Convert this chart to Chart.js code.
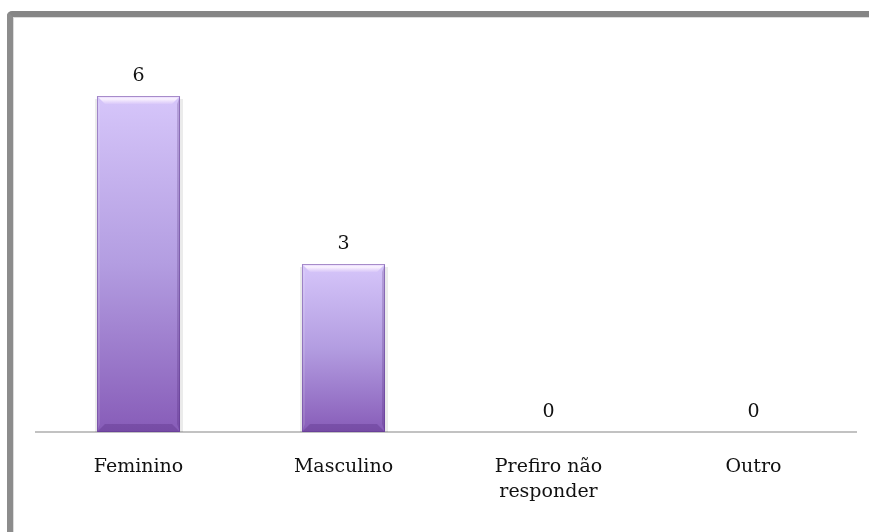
<!DOCTYPE html>
<html>
<head>
<meta charset="utf-8">
<script src="https://cdn.jsdelivr.net/npm/chart.js@4/dist/chart.umd.min.js"></script>
<style>
  html, body { margin: 0; padding: 0; background: #fff; }
  #wrap { position: relative; width: 869px; height: 532px; overflow: hidden; }
  #frame {
    position: absolute; left: 7px; top: 11px; width: 900px; height: 600px;
    border-top: 6px solid #858585; border-left: 6px solid #8c8c8c;
    border-top-left-radius: 5px; box-sizing: border-box;
  }
  #frame::after {
    content: ""; position: absolute; left: 0; top: 0; right: 0; bottom: 0;
    border-top: 1px solid #dcdcdc; border-left: 1px solid #dcdcdc;
  }
  canvas { position: absolute; left: 0; top: 0; }
</style>
</head>
<body>
<div id="wrap">
  <div id="frame"></div>
  <canvas id="c" width="869" height="532"></canvas>
</div>
<script>
const categories = [['Feminino'], ['Masculino'], ['Prefiro não', 'responder'], ['Outro']];
const respostas = [6, 3, 0, 0];

const FONT = '"DejaVu Serif", "Liberation Serif", serif';

// Vertical lavender-to-purple gradient over each bar's own height
function barGradient(ctx) {
  const chart = ctx.chart;
  if (!chart.chartArea || ctx.type !== 'data') return '#a888d8';
  const y = chart.scales.y;
  const top = y.getPixelForValue(ctx.parsed.y);
  const bottom = y.getPixelForValue(0);
  if (bottom - top < 1) return '#a888d8';
  const g = chart.ctx.createLinearGradient(0, top, 0, bottom);
  g.addColorStop(0, '#d6c6fa');
  g.addColorStop(0.5, '#b39de1');
  g.addColorStop(1, '#875cb8');
  return g;
}

// Bevelled edges and a soft shadow on each bar
const bevel = {
  id: 'bevel',
  beforeDatasetsDraw(chart) {
    const c = chart.ctx;
    chart.getDatasetMeta(0).data.forEach(bar => {
      const h = bar.base - bar.y;
      if (h < 2) return;
      const l = bar.x - bar.width / 2, r = bar.x + bar.width / 2;
      c.save();
      c.fillStyle = 'rgba(0,0,0,0.08)';
      c.fillRect(r, bar.y + 3, 3, h - 3);
      c.fillRect(l - 2, bar.y + 3, 2, h - 3);
      c.restore();
    });
  },
  afterDatasetsDraw(chart) {
    const c = chart.ctx;
    chart.getDatasetMeta(0).data.forEach(bar => {
      const h = bar.base - bar.y;
      if (h < 2) return;
      const l = bar.x - bar.width / 2, r = bar.x + bar.width / 2;
      const t = bar.y, b = bar.base, d = 8;
      c.save();
      // top face highlight
      let g = c.createLinearGradient(0, t, 0, t + d);
      g.addColorStop(0, 'rgba(235,215,255,0.6)');
      g.addColorStop(0.35, 'rgba(255,250,255,0.9)');
      g.addColorStop(1, 'rgba(255,240,255,0.1)');
      c.fillStyle = g;
      c.beginPath();
      c.moveTo(l, t); c.lineTo(r, t); c.lineTo(r - d, t + d); c.lineTo(l + d, t + d); c.closePath();
      c.fill();
      // left face
      c.fillStyle = 'rgba(255,255,255,0.12)';
      c.beginPath();
      c.moveTo(l, t); c.lineTo(l + 3, t + d); c.lineTo(l + 3, b - d); c.lineTo(l, b); c.closePath();
      c.fill();
      // right face
      c.fillStyle = 'rgba(60,20,100,0.2)';
      c.beginPath();
      c.moveTo(r, t); c.lineTo(r - 3, t + d); c.lineTo(r - 3, b - d); c.lineTo(r, b); c.closePath();
      c.fill();
      // bottom face
      c.fillStyle = 'rgba(60,20,100,0.22)';
      c.beginPath();
      c.moveTo(l, b); c.lineTo(r, b); c.lineTo(r - d, b - d); c.lineTo(l + d, b - d); c.closePath();
      c.fill();
      // outline
      c.strokeStyle = 'rgba(90,50,140,0.45)';
      c.lineWidth = 1;
      c.strokeRect(l + 0.5, t + 0.5, r - l - 1, h - 1);
      c.restore();
    });
  }
};

// Value labels above each bar
const valueLabels = {
  id: 'valueLabels',
  afterDraw(chart) {
    const c = chart.ctx;
    const ds = chart.data.datasets[0];
    c.save();
    c.font = '19px ' + FONT;
    c.fillStyle = '#111';
    c.textAlign = 'center';
    c.textBaseline = 'alphabetic';
    chart.getDatasetMeta(0).data.forEach((bar, i) => {
      c.fillText(String(ds.data[i]), bar.x, bar.y - 15);
    });
    c.restore();
  }
};

new Chart(document.getElementById('c'), {
  type: 'bar',
  data: {
    labels: categories,
    datasets: [{
      data: respostas,
      backgroundColor: barGradient,
      borderWidth: 0,
      barPercentage: 0.405,
      categoryPercentage: 1
    }]
  },
  options: {
    responsive: false,
    animation: false,
    events: [],
    layout: { padding: { left: 36, right: 13, top: 40, bottom: 0 } },
    plugins: { legend: { display: false }, tooltip: { enabled: false } },
    scales: {
      x: {
        grid: { display: false, drawTicks: false },
        border: { display: true, color: '#c2c2c2', width: 2 },
        ticks: {
          color: '#111',
          font: { family: FONT, size: 19, lineHeight: 1.35 },
          padding: 22,
          maxRotation: 0, autoSkip: false
        },
        afterFit(scale) { scale.height = 100; }
      },
      y: {
        display: false,
        min: 0, max: 7,
        afterFit(scale) { scale.width = 0; }
      }
    }
  },
  plugins: [bevel, valueLabels]
});
</script>
</body>
</html>
